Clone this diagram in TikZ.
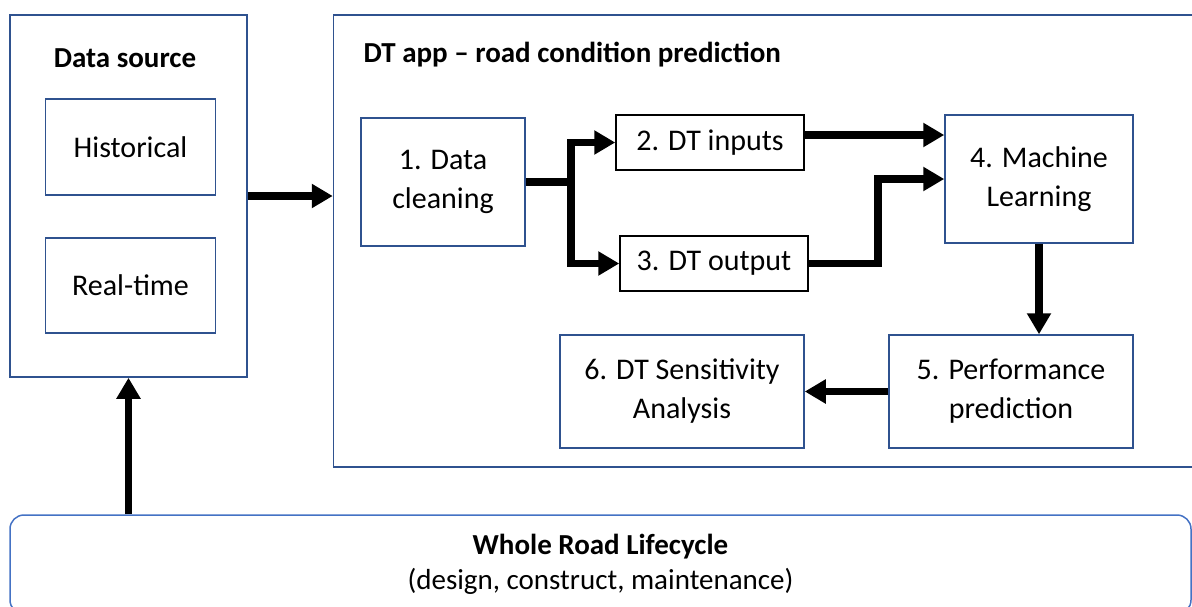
\documentclass[tikz,border=0pt]{standalone}
\usepackage{fontspec}
\setmainfont{Carlito}
\usetikzlibrary{positioning, arrows.meta}
\definecolor{boxblue}{RGB}{47,82,143}
\definecolor{lifeblue}{RGB}{68,114,196}

\begin{document}
\begin{tikzpicture}[x=1pt, y=-1pt,
                    every node/.style={font=\fontsize{30}{39}\selectfont, align=center},
                    blk/.style={draw=boxblue, line width=1.5pt, inner sep=0pt},
                    plain/.style={draw=black, line width=1.5pt, inner sep=0pt},
                    title/.style={font=\fontsize{29}{35}\selectfont\bfseries},
                    flow/.style={line width=7.5pt, -{Triangle[length=21pt, width=23pt]}}]
\useasboundingbox (0,0) rectangle (1192,606);
\node[blk, minimum width=237pt, minimum height=362pt] (src) at (128.5,196) {};
\node[title] (srctitle) at (125,58) {Data source};
\node[blk, minimum width=170pt, minimum height=96pt] (hist) at (130.5,147) {Historical};
\node[blk, minimum width=170pt, minimum height=95pt] (real) at (130.5,285.5) {Real-time};
\node[blk, minimum width=863pt, minimum height=452pt] (app) at (765,241) {};
\node[title, anchor=base west] (apptitle) at (360,62) {DT app – road condition prediction};
\node[blk, minimum width=164pt, minimum height=128pt] (clean) at (443,182) {1. Data\\cleaning};
\node[plain, minimum width=188pt, minimum height=55pt] (inputs) at (710,142.5) {2. DT inputs};
\node[plain, minimum width=188pt, minimum height=55pt] (output) at (714,263.5) {3. DT output};
\node[blk, minimum width=188pt, minimum height=128pt] (ml) at (1039,179) {4. Machine\\Learning};
\node[blk, minimum width=244pt, minimum height=113pt] (perf) at (1011,391.5) {5. Performance\\prediction};
\node[blk, minimum width=244pt, minimum height=113pt] (sens) at (682,391.5) {6. DT Sensitivity\\Analysis};
\node[draw=lifeblue, line width=1.5pt, rounded corners=14pt, inner sep=0pt,
      minimum width=1181pt, minimum height=99pt, font=\fontsize{29}{35}\selectfont]
      (life) at (600.5,564.5) {\textbf{Whole Road Lifecycle}\\(design, construct, maintenance)};
\draw[flow] (src.east) -- (src.east -| app.west);
\draw[flow] (clean.east) -- ++(45,0) |- (inputs.west);
\draw[flow] (clean.east) -- ++(45,0) |- (output.west);
\draw[flow] ([yshift=7.5pt]inputs.east) -- ([yshift=7.5pt]inputs.east -| ml.west);
\draw[flow] (output.east) -- ++(69,0) |- (ml.west);
\draw[flow] (ml.south) -- (ml.south |- perf.north);
\draw[flow] (perf.west) -- (sens.east);
\draw[flow] (life.north -| src.south) -- (src.south);
\end{tikzpicture}
\end{document}
